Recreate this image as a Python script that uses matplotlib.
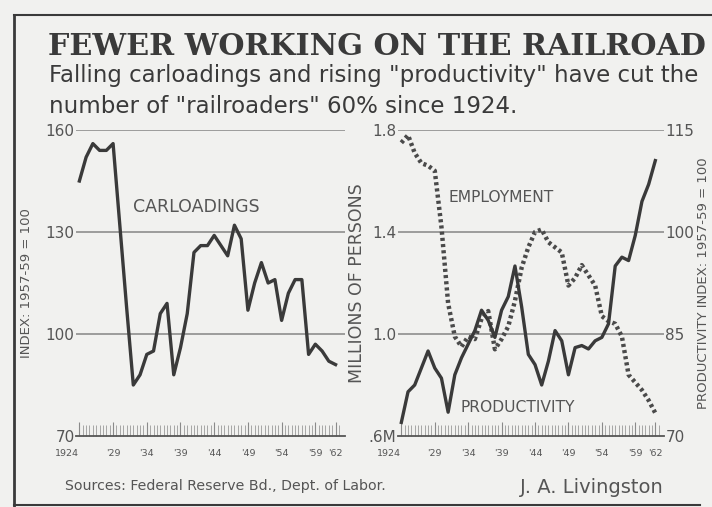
import matplotlib.pyplot as plt
from matplotlib.lines import Line2D

years = list(range(1924, 1963))

carloadings = [145, 152, 156, 154, 154, 156, 132, 108, 85, 88,
               94, 95, 106, 109, 88, 96, 106, 124, 126, 126,
               129, 126, 123, 132, 128, 107, 115, 121, 115, 116,
               104, 112, 116, 116, 94, 97, 95, 92, 91]

employment = [1.75, 1.78, 1.71, 1.67, 1.66, 1.64, 1.42, 1.12, 0.99, 0.95,
              0.99, 0.98, 1.06, 1.09, 0.94, 0.98, 1.03, 1.13, 1.26, 1.34,
              1.40, 1.41, 1.36, 1.34, 1.32, 1.19, 1.22, 1.27, 1.23, 1.19,
              1.07, 1.05, 1.04, 0.99, 0.84, 0.81, 0.78, 0.74, 0.69]

productivity = [72, 76.5, 77.5, 80, 82.5, 80, 78.5, 73.5, 79, 81.5,
                83.5, 85.5, 88.5, 87, 84.5, 88.5, 90.5, 95, 89, 82,
                80.5, 77.5, 81, 85.5, 84, 79, 83, 83.3, 82.8, 84,
                84.5, 86.5, 95, 96.3, 95.8, 99.5, 104.5, 107, 110.5]

tick_years = [1924, 1929, 1934, 1939, 1944, 1949, 1954, 1959, 1962]
tick_names = ["1924", "'29", "'34", "'39", "'44", "'49", "'54", "'59", "'62"]

left_ticks = [70, 100, 130, 160]
emp_ticks = [0.6, 1.0, 1.4, 1.8]
emp_names = [".6M", "1.0", "1.4", "1.8"]
prod_ticks = [70, 85, 100, 115]

bg = '#f1f1ef'
ink = '#3a3a3a'
grey = '#555555'

fig = plt.figure(figsize=(7.12, 5.07), dpi=100, facecolor=bg)

def fx(px):
    return px / 712

def fy(py):
    return 1 - py / 507

# frame
fig.add_artist(Line2D([fx(14), fx(14)], [fy(15), fy(507)], color=ink, lw=2))
fig.add_artist(Line2D([fx(14), 1], [fy(15), fy(15)], color=ink, lw=1.5))
fig.add_artist(Line2D([fx(14), fx(700)], [fy(505), fy(505)], color=ink, lw=1.5))

fig.text(fx(48), fy(55), "FEWER WORKING ON THE RAILROAD", family='DejaVu Serif',
         fontsize=21.7, fontweight='bold', color=ink, va='baseline')
fig.text(fx(49), fy(82), 'Falling carloadings and rising "productivity" have cut the',
         family='DejaVu Sans', fontsize=16.5, color=ink, va='baseline')
fig.text(fx(49), fy(113), 'number of "railroaders" 60% since 1924.',
         family='DejaVu Sans', fontsize=16.5, color=ink, va='baseline')


def style_axis(ax, xlim):
    ax.set_facecolor('none')
    ax.set_xlim(*xlim)
    for s in ['top', 'right', 'left']:
        ax.spines[s].set_visible(False)
    ax.spines['bottom'].set_color(grey)
    ax.spines['bottom'].set_linewidth(1.3)
    ax.set_xticks(tick_years)
    ax.set_xticklabels(tick_names, fontsize=6.8, color=grey, family='DejaVu Sans')
    ax.get_xticklabels()[0].set_ha('right')
    ax.set_xticks([y + h for y in range(1924, 1963) for h in (0, 0.5)], minor=True)
    ax.tick_params(axis='x', which='major', direction='in', length=10, width=0.8,
                   colors='#8a8a8a', labelcolor=grey, pad=9)
    ax.tick_params(axis='x', which='minor', direction='in', length=8, width=0.6,
                   colors='#9a9a9a')


# left panel
ax1 = fig.add_axes([fx(76), fy(436), fx(345 - 76), (436 - 130) / 507])
style_axis(ax1, (1923.5, 1963.4))
ax1.set_ylim(70, 160)
ax1.set_yticks(left_ticks)
ax1.set_yticklabels([str(v) for v in left_ticks], fontsize=11, color=grey)
ax1.tick_params(axis='y', length=0, pad=1)
for v in left_ticks[1:]:
    ax1.axhline(v, color='#858585', lw=1.1, zorder=1)
ax1.plot(years, carloadings, color=ink, lw=2.4, zorder=3)
ax1.text(1932.0, 137.4, "CARLOADINGS", fontsize=12.5, color=grey, va='center')
ax1.set_ylabel("INDEX: 1957-59 = 100", fontsize=9.5, color=grey)
ax1.yaxis.set_label_coords(-0.16, 0.5)

# right panel
ax2 = fig.add_axes([fx(398), fy(436), fx(664 - 398), (436 - 130) / 507])
style_axis(ax2, (1923.5, 1963.3))
ax2.set_ylim(0.6, 1.8)
ax2.set_yticks(emp_ticks)
ax2.set_yticklabels(emp_names, fontsize=11, color=grey)
ax2.tick_params(axis='y', length=0, pad=1)
for v in emp_ticks[1:]:
    ax2.axhline(v, color='#858585', lw=1.1, zorder=1)
ax2.plot(years, employment, color='#4a4a4a', lw=3.2, linestyle=(0, (0.7, 0.7)), zorder=3)
ax2.text(1931.0, 1.537, "EMPLOYMENT", fontsize=11.2, color=grey, va='center')
ax2.text(1932.8, 0.71, "PRODUCTIVITY", fontsize=11.2, color=grey, va='center')
ax2.set_ylabel("MILLIONS OF PERSONS", fontsize=12.5, color=grey)
ax2.yaxis.set_label_coords(-0.12, 0.5)

ax3 = ax2.twinx()
ax3.set_ylim(70, 115)
for s in ['top', 'right', 'left', 'bottom']:
    ax3.spines[s].set_visible(False)
ax3.set_yticks(prod_ticks)
ax3.set_yticklabels([str(v) for v in prod_ticks], fontsize=11, color=grey)
ax3.tick_params(axis='y', length=0, pad=1)
ax3.plot(years, productivity, color=ink, lw=2.4, zorder=3)
ax3.set_ylabel("PRODUCTIVITY INDEX: 1957-59 = 100", fontsize=9.5, color=grey)
ax3.yaxis.set_label_coords(1.125, 0.5)

fig.text(fx(65), fy(490), "Sources: Federal Reserve Bd., Dept. of Labor.",
         fontsize=10.2, color=grey, va='baseline')
fig.text(fx(520), fy(493), "J. A. Livingston", family='DejaVu Sans', fontsize=14,
         color=grey, va='baseline')

fig.savefig("out.png", dpi=100, facecolor=bg)
